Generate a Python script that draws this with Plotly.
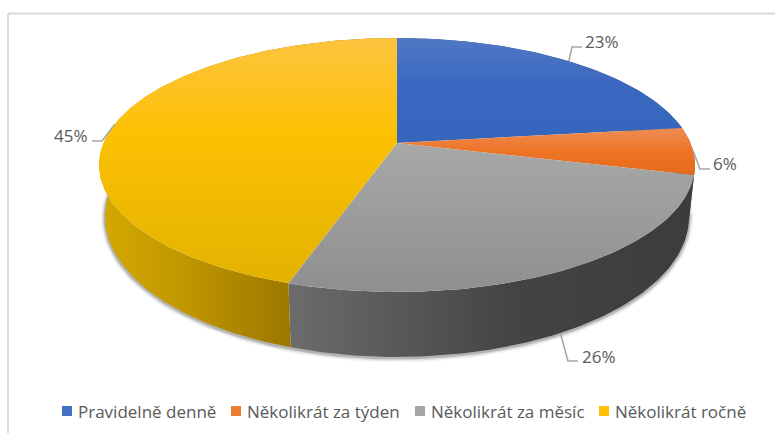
import numpy as np
import plotly.graph_objects as go

categories = ["Pravidelně denně", "Několikrát za týden", "Několikrát za měsíc", "Několikrát ročně"]
values = [23, 6, 26, 45]

# perspective pie geometry (page pixels)
W, H = 775, 433
APEX = (397, 143)
TILT, RX, RY = 0.173, 293.5, 123.2
TOP_E = (397, 165, 298, 127)
BOT_E = (397, 217, 292, 140)
FONT = "Open Sans"
TXT = "#595959"

# y axis is reversed, so 0 is the bottom of each face
top_scales = [
    [[0, "#3566bc"], [0.55, "#3a68c0"], [1, "#5078c4"]],
    [[0, "#e56a1a"], [0.5, "#ee7425"], [1, "#ee8d55"]],
    [[0, "#8f8f8f"], [1, "#a8a8a8"]],
    [[0, "#e2b200"], [0.62, "#fdc104"], [1, "#fdc43f"]],
]
wall_scales = [
    [[0, "#2f5597"], [1, "#2f5597"]],
    [[0, "#a04a10"], [1, "#a04a10"]],
    [[0, "#6c6c6c"], [0.55, "#444444"], [1, "#3c3c3c"]],
    [[0, "#d4a900"], [0.3, "#bf9600"], [0.64, "#9b7700"], [1, "#9b7700"]],
]
swatches = ["#4472c4", "#ed7d31", "#a5a5a5", "#ffc000"]
swatch_left = [62, 231, 415, 599]
LEGEND_Y = 411
label_pos = [(602, 41), (725, 163), (599, 356), (71, 135)]
elbows = [((572, 47), (582, 47)), ((700, 169), (710, 169)),
          ((568, 361), (578, 361)), ((102, 141), (92, 141))]


def rim(frac):
    th = 2 * np.pi * np.asarray(frac, dtype=float)
    u, v = np.sin(th), np.cos(th)
    d = 1 + TILT * v
    return APEX[0] + RX * u / d, APEX[1] - RY * v / d


def to_bottom(x, y):
    nx = (np.asarray(x) - TOP_E[0]) / TOP_E[2]
    ny = (np.asarray(y) - TOP_E[1]) / TOP_E[3]
    return BOT_E[0] + BOT_E[2] * nx, BOT_E[1] + BOT_E[3] * ny


cum = np.cumsum([0] + values) / sum(values)
fig = go.Figure()

# soft shadow under the base
fx, fy = rim(np.linspace(0, 1, 361))
bx, by = to_bottom(fx, fy)
for w, a in [(9, 0.05), (6, 0.10), (3, 0.22)]:
    fig.add_trace(go.Scatter(x=bx, y=by + 1, mode="lines", hoverinfo="skip", showlegend=False,
                             line=dict(color=f"rgba(30,30,30,{a})", width=w)))

# walls
for i in range(len(values)):
    t = np.linspace(cum[i], cum[i + 1], max(int(values[i] * 4), 8))
    x, y = rim(t)
    xb, yb = to_bottom(x, y)
    fig.add_trace(go.Scatter(x=np.r_[x, xb[::-1]], y=np.r_[y, yb[::-1]], mode="lines", fill="toself",
                             line=dict(width=0), hoverinfo="skip", showlegend=False,
                             fillgradient=dict(type="horizontal", colorscale=wall_scales[i])))
# top faces
for i, name in enumerate(categories):
    t = np.linspace(cum[i], cum[i + 1], max(int(values[i] * 4), 8))
    x, y = rim(t)
    fig.add_trace(go.Scatter(x=np.r_[APEX[0], x, APEX[0]], y=np.r_[APEX[1], y, APEX[1]], mode="lines",
                             fill="toself", line=dict(width=0), name=name, showlegend=False,
                             text=f"{name}: {values[i]}%", hoverinfo="text",
                             fillgradient=dict(type="vertical", colorscale=top_scales[i])))

# leader lines and value labels
annotations = []
for i, v in enumerate(values):
    mx, my = rim((cum[i] + cum[i + 1]) / 2)
    if (my - TOP_E[1]) / TOP_E[3] > 0.5:
        mx, my = to_bottom(mx, my)
    e1, e2 = elbows[i]
    fig.add_trace(go.Scatter(x=[mx, e1[0], e2[0]], y=[my, e1[1], e2[1]], mode="lines", hoverinfo="skip",
                             showlegend=False, line=dict(color="#a6a6a6", width=1.5)))
    annotations.append(dict(x=label_pos[i][0], y=label_pos[i][1], text=f"{v}%", showarrow=False,
                            xanchor="center", yanchor="middle", font=dict(family=FONT, size=17, color=TXT)))

# legend row
fig.add_trace(go.Scatter(x=[s + 5 for s in swatch_left], y=[LEGEND_Y] * 4, mode="markers", hoverinfo="skip",
                         showlegend=False,
                         marker=dict(symbol="square", size=10, color=swatches, line=dict(width=0))))
for sx, name in zip(swatch_left, categories):
    annotations.append(dict(x=sx + 14, y=LEGEND_Y, text=name, showarrow=False, xanchor="left", yanchor="middle",
                            font=dict(family=FONT, size=17, color=TXT)))

frame = dict(color="#d9d9d9", width=2)
fig.update_layout(
    width=W, height=H, margin=dict(l=0, r=0, t=0, b=0), showlegend=False,
    paper_bgcolor="white", plot_bgcolor="white", annotations=annotations,
    xaxis=dict(range=[0, W], visible=False, fixedrange=True),
    yaxis=dict(range=[H, 0], visible=False, fixedrange=True),
    shapes=[dict(type="line", x0=8, x1=8, y0=13.5, y1=H, line=frame),
            dict(type="line", x0=8, x1=W, y0=13.5, y1=13.5, line=frame)],
)
fig.write_html("out.html", config={"displayModeBar": False},
               post_script="document.body.style.margin='0';")
